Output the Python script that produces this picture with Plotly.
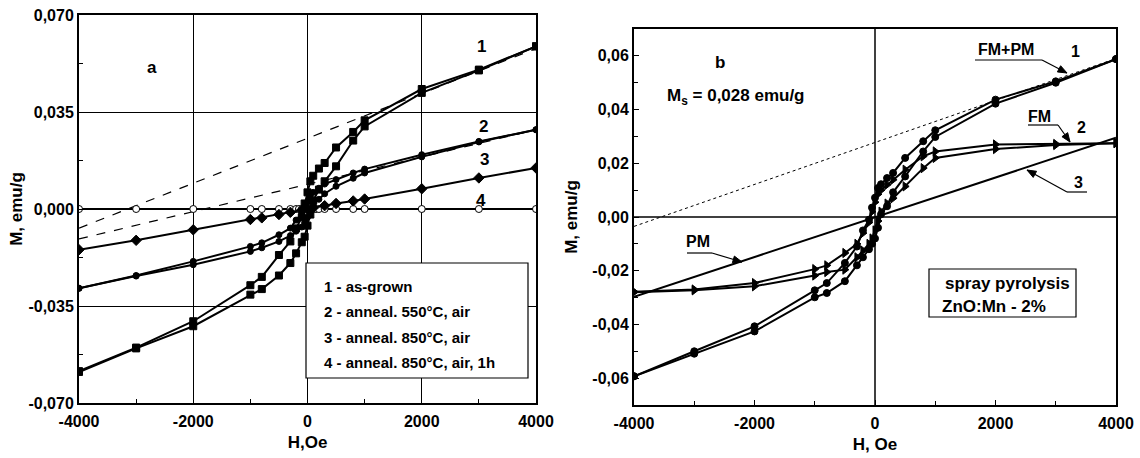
import math
import plotly.graph_objects as go

# ---------------- data ----------------
H_desc = [4000, 3000, 2000, 1000, 800, 500, 300, 200, 100, 50, 0, -50, -100, -200, -300, -500, -800, -1000, -2000, -3000, -4000]
H_asc = H_desc[::-1]

# panel a
a1_upper = [0.0587, 0.0503, 0.0433, 0.0320, 0.0278, 0.0222, 0.0166, 0.0146, 0.0120, 0.0100, 0.0060, 0.0020, -0.0030, -0.0070, -0.0117, -0.0166, -0.0245, -0.0275, -0.0405, -0.0500, -0.0585]
a1_lower = [-0.0588, -0.0503, -0.0423, -0.0309, -0.0289, -0.0240, -0.0195, -0.0160, -0.0120, -0.0100, -0.0060, -0.0020, 0.0030, 0.0070, 0.0100, 0.0154, 0.0247, 0.0298, 0.0419, 0.0500, 0.0587]
a2_upper = [0.0286, 0.0244, 0.0196, 0.0144, 0.0130, 0.0106, 0.0090, 0.0075, 0.0060, 0.0045, 0.0025, 0.0005, -0.0015, -0.0040, -0.0069, -0.0093, -0.0122, -0.0135, -0.0189, -0.0240, -0.0286]
a2_lower = [-0.0286, -0.0242, -0.0201, -0.0153, -0.0140, -0.0117, -0.0096, -0.0080, -0.0065, -0.0050, -0.0030, -0.0010, 0.0015, 0.0035, 0.0055, 0.0082, 0.0111, 0.0130, 0.0188, 0.0242, 0.0286]
a3_H = [-4000, -3000, -2000, -1000, -800, -500, -300, -100, 0, 100, 300, 500, 800, 1000, 2000, 3000, 4000]
a3_M = [-0.0147, -0.0113, -0.0075, -0.0038, -0.0032, -0.0020, -0.0012, -0.0004, 0.0, 0.0004, 0.0012, 0.0020, 0.0029, 0.0036, 0.0073, 0.0112, 0.0148]
a4_H = [-4000, -3000, -2000, -1000, -800, -500, -300, -200, -150, -100, -50, 0, 50, 100, 150, 200, 300, 500, 800, 1000, 2000, 3000, 4000]
a4_M = [0.0] * len(a4_H)
a_dash_H = [-4000, 4000]
a_dash1_M = [-0.0069, 0.0579]
a_dash2_M = [-0.0108, 0.0286]

# panel b
b1_upper = [0.0588, 0.0505, 0.0437, 0.0323, 0.0282, 0.0220, 0.0164, 0.0145, 0.0122, 0.0108, 0.0072, 0.0035, -0.0010, -0.0050, -0.0110, -0.0171, -0.0246, -0.0273, -0.0407, -0.0500, -0.0593]
b1_lower = [-0.0593, -0.0509, -0.0426, -0.0299, -0.0283, -0.0239, -0.0180, -0.0150, -0.0120, -0.0100, -0.0080, -0.0040, 0.0010, 0.0040, 0.0092, 0.0151, 0.0244, 0.0298, 0.0422, 0.0500, 0.0588]
b2_upper = [0.0275, 0.0272, 0.0270, 0.0244, 0.0226, 0.0176, 0.0139, 0.0120, 0.0100, 0.0085, 0.0055, 0.0020, -0.0020, -0.0060, -0.0100, -0.0134, -0.0180, -0.0194, -0.0246, -0.0270, -0.0278]
b2_lower = [-0.0280, -0.0273, -0.0258, -0.0218, -0.0205, -0.0196, -0.0150, -0.0125, -0.0100, -0.0080, -0.0050, -0.0015, 0.0020, 0.0050, 0.0070, 0.0114, 0.0182, 0.0220, 0.0253, 0.0268, 0.0275]
b3_H = [-4000, 4000]
b3_M = [-0.0297, 0.0295]
b_dash_H = [-4000, 4000]
b_dash_M = [-0.0035, 0.0590]

x_ticks = [-4000, -2000, 0, 2000, 4000]
x_ticktext = ["-4000", "-2000", "0", "2000", "4000"]
x_minor = [-3000, -1000, 1000, 3000]
a_yticks = [0.07, 0.035, 0.0, -0.035, -0.07]
a_yticktext = ["0,070", "0,035", "0,000", "-0,035", "-0,070"]
a_yminor = [-0.0525, -0.0175, 0.0175, 0.0525]
b_yticks = [0.06, 0.04, 0.02, 0.0, -0.02, -0.04, -0.06]
b_yticktext = ["0,06", "0,04", "0,02", "0,00", "-0,02", "-0,04", "-0,06"]
b_yminor = [-0.05, -0.03, -0.01, 0.01, 0.03, 0.05]
legend_lines = ["1 - as-grown", "2 - anneal. 550°C, air", "3 - anneal. 850°C, air", "4 - anneal. 850°C, air, 1h"]

# ---------------- figure ----------------
W, Hh = 1140, 458
fig = go.Figure()
FONT = "Liberation Sans"
LW = 2

def add(x, y, sym, size, xa, ya, fill="black", width=LW, dash="solid", mode="lines+markers"):
    fig.add_trace(go.Scatter(
        x=x, y=y, mode=mode, xaxis=xa, yaxis=ya, showlegend=False,
        line=dict(color="black", width=width, dash=dash),
        marker=dict(symbol=sym, size=size, color=fill, line=dict(color="black", width=1)),
        hoverinfo="skip"))

# panel a
add(a_dash_H, a_dash1_M, "circle", 1, "x", "y", width=1.2, dash="dash", mode="lines")
add(a_dash_H, a_dash2_M, "circle", 1, "x", "y", width=1.2, dash="dash", mode="lines")
add(a4_H, a4_M, "circle", 7, "x", "y", fill="white")
add(a3_H, a3_M, "diamond", 8, "x", "y")
add(H_desc, a2_upper, "circle", 6, "x", "y")
add(H_asc, a2_lower, "circle", 6, "x", "y")
add(H_desc, a1_upper, "square", 7, "x", "y")
add(H_asc, a1_lower, "square", 7, "x", "y")

# panel b
add(b_dash_H, b_dash_M, "circle", 1, "x2", "y2", width=1, dash="3px,3px", mode="lines")
add(b3_H, b3_M, "circle", 1, "x2", "y2", mode="lines")
add(H_desc, b2_upper, "triangle-right", 8, "x2", "y2")
add(H_asc, b2_lower, "triangle-right", 8, "x2", "y2")
add(H_desc, b1_upper, "circle", 7, "x2", "y2")
add(H_asc, b1_lower, "circle", 7, "x2", "y2")

tickfont = dict(family=FONT, size=16, color="black", weight="bold")
titlefont = dict(family=FONT, size=17, color="black", weight="bold")

def xaxis_cfg(domain, anchor, title, grid):
    return dict(domain=domain, anchor=anchor, range=[-4000, 4000], automargin=False,
                tickmode="array", tickvals=x_ticks, ticktext=x_ticktext,
                tickfont=tickfont, showline=True, mirror=True, linecolor="black", linewidth=2,
                ticks="inside", ticklen=5, tickcolor="black", zeroline=False,
                ticklabelstandoff=3,
                showgrid=grid, gridcolor="black", gridwidth=1,
                minor=dict(tickmode="array", tickvals=x_minor, ticks="inside", ticklen=4,
                           tickcolor="black", showgrid=False),
                title=dict(text=title, font=titlefont, standoff=7))

def yaxis_cfg(domain, anchor, tv, tt, minor, grid, standoff):
    return dict(domain=domain, anchor=anchor, range=[-0.07, 0.07], automargin=False,
                tickmode="array", tickvals=tv, ticktext=tt, tickfont=tickfont,
                showline=True, mirror=True, linecolor="black", linewidth=2,
                ticks="inside", ticklen=5, tickcolor="black",
                showgrid=grid, gridcolor="black", gridwidth=1, zeroline=False,
                minor=dict(tickmode="array", tickvals=minor, ticks="inside", ticklen=4,
                           tickcolor="black", showgrid=False),
                title=dict(text="M, emu/g", font=titlefont, standoff=standoff))

fig.update_layout(
    width=W, height=Hh, autosize=False,
    margin=dict(l=0, r=0, t=0, b=0),
    plot_bgcolor="white", paper_bgcolor="white",
    xaxis=xaxis_cfg([79/W, 536/W], "y", "H,Oe", True),
    yaxis=yaxis_cfg([55/Hh, 443/Hh], "x", a_yticks, a_yticktext, a_yminor, True, 1),
    xaxis2=xaxis_cfg([634/W, 1116/W], "y2", "H, Oe", False),
    yaxis2=yaxis_cfg([53/Hh, 429/Hh], "x2", b_yticks, b_yticktext, b_yminor, False, 10),
)

# zero axes for panel b
fig.add_shape(type="line", xref="x2", yref="y2", x0=0, x1=0, y0=-0.07, y1=0.07, line=dict(color="black", width=1.5), layer="below")
fig.add_shape(type="line", xref="x2", yref="y2", x0=-4000, x1=4000, y0=0, y1=0, line=dict(color="black", width=1.5), layer="below")

def text(x, y, s, xr, yr, size=16):
    fig.add_annotation(x=x, y=y, xref=xr, yref=yr, text=s, showarrow=False,
                       font=dict(family=FONT, size=size, color="black", weight="bold"),
                       xanchor="center", yanchor="middle")

def px(x, y):
    return x / W, 1 - y / Hh

# panel a labels
text(-2723, 0.0512, "a", "x", "y", 17)
text(3038, 0.0588, "1", "x", "y", 17)
text(3073, 0.0296, "2", "x", "y", 17)
text(3091, 0.0177, "3", "x", "y", 17)
text(3038, 0.0032, "4", "x", "y", 17)

# legend box panel a
x0, y0 = px(306, 378); x1, y1 = px(528, 263)
fig.add_shape(type="rect", xref="paper", yref="paper", x0=x0, x1=x1, y0=y0, y1=y1,
              line=dict(color="black", width=1.2), fillcolor="white")
for i, s in enumerate(legend_lines):
    xx, yy = px(322, 286 + 25.5 * i)
    fig.add_annotation(x=xx, y=yy, xref="paper", yref="paper", text=s,
                       showarrow=False, xanchor="left", yanchor="middle",
                       font=dict(family=FONT, size=15, color="black", weight="bold"))

# panel b labels
text(-2570, 0.0576, "b", "x2", "y2", 17)
text(-2300, 0.0445, "M<sub>s</sub> = 0,028 emu/g", "x2", "y2", 17)
text(2175, 0.0623, "FM+PM", "x2", "y2", 16)
text(3330, 0.0615, "1", "x2", "y2", 16)
text(2730, 0.0376, "FM", "x2", "y2", 16)
text(3420, 0.0335, "2", "x2", "y2", 16)
text(3370, 0.0130, "3", "x2", "y2", 16)
text(-2940, -0.0093, "PM", "x2", "y2", 16)

# leaders (pixel coordinates): underline start, underline end / arrow start, arrow tip
leaders = [
    ((975, 60), (1042, 60), (1067, 73)),
    ((1028, 125), (1058, 125), (1070, 142)),
    ((1087, 192), (1067, 192), (1027, 170)),
    ((687, 253), (712, 253), (742, 262)),
]
for p0, p1, tip in leaders:
    a0 = px(*p0); a1 = px(*p1); t = px(*tip)
    fig.add_shape(type="line", xref="paper", yref="paper", x0=a0[0], y0=a0[1], x1=a1[0], y1=a1[1],
                  line=dict(color="black", width=1.2))
    fig.add_shape(type="line", xref="paper", yref="paper", x0=a1[0], y0=a1[1], x1=t[0], y1=t[1],
                  line=dict(color="black", width=1.2))
    dx, dy = tip[0] - p1[0], tip[1] - p1[1]
    L = math.hypot(dx, dy); ux, uy = dx / L, dy / L
    bx, by = tip[0] - 9 * ux, tip[1] - 9 * uy
    nx, ny = -uy, ux
    pts = [tip, (bx + 3.5 * nx, by + 3.5 * ny), (bx - 3.5 * nx, by - 3.5 * ny)]
    path = "M " + " L ".join(f"{p[0]/W:.5f},{1-p[1]/Hh:.5f}" for p in pts) + " Z"
    fig.add_shape(type="path", xref="paper", yref="paper", path=path,
                  fillcolor="black", line=dict(color="black", width=1))

# box panel b
x0, y0 = px(929, 317); x1, y1 = px(1076, 269)
fig.add_shape(type="rect", xref="paper", yref="paper", x0=x0, x1=x1, y0=y0, y1=y1,
              line=dict(color="black", width=1.2), fillcolor="white")
xx, yy = px(1007, 283)
fig.add_annotation(x=xx, y=yy, xref="paper", yref="paper", text="spray pyrolysis",
                   showarrow=False, xanchor="center", yanchor="middle",
                   font=dict(family=FONT, size=17, color="black", weight="bold"))
xx, yy = px(994, 306)
fig.add_annotation(x=xx, y=yy, xref="paper", yref="paper", text="ZnO:Mn - 2%",
                   showarrow=False, xanchor="center", yanchor="middle",
                   font=dict(family=FONT, size=17, color="black", weight="bold"))

fig.write_html("out.html", config={"displayModeBar": False},
               post_script="document.body.style.margin='0';document.body.style.padding='0';")
